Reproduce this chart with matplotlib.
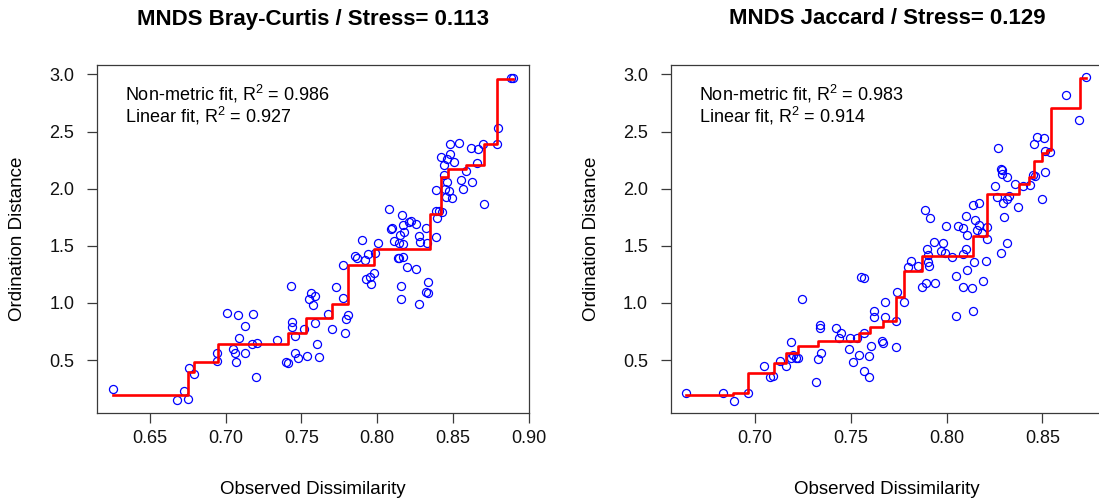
import matplotlib
matplotlib.use("Agg")
import matplotlib.pyplot as plt
import numpy as np

plt.rcParams['font.family'] = ['Liberation Sans', 'DejaVu Sans']
plt.rcParams['mathtext.fontset'] = 'custom'
plt.rcParams['mathtext.rm'] = 'Liberation Sans'
plt.rcParams['mathtext.it'] = 'Liberation Sans:italic'

# --- Bray-Curtis: observed dissimilarity vs ordination distance ---
bc_obs = [0.6257, 0.6677, 0.6753, 0.6725, 0.676, 0.679, 0.694, 0.6945, 0.707, 0.705,
          0.706, 0.709, 0.713, 0.713, 0.701, 0.708, 0.718, 0.717, 0.7206, 0.720,
          0.734, 0.741, 0.740, 0.746, 0.7474, 0.7534, 0.7618, 0.760, 0.746, 0.7437,
          0.7437, 0.7433, 0.7514, 0.7565, 0.7547, 0.7591, 0.7574, 0.7591, 0.7673, 0.7699,
          0.7785, 0.7794, 0.7807, 0.7728, 0.7774, 0.7776, 0.790, 0.7851, 0.7867, 0.7917,
          0.794, 0.7988, 0.8003, 0.7924, 0.796, 0.7955, 0.7982, 0.808, 0.8094, 0.810,
          0.8165, 0.817, 0.8153, 0.8114, 0.8147, 0.817, 0.8175, 0.8208, 0.8224, 0.8259,
          0.8277, 0.8281, 0.833, 0.8325, 0.8385, 0.8136, 0.8147, 0.817, 0.8198, 0.8253,
          0.8155, 0.816, 0.8277, 0.8325, 0.8334, 0.8334, 0.8385, 0.841, 0.8396, 0.8425,
          0.8385, 0.8444, 0.845, 0.846, 0.8472, 0.8455, 0.8495, 0.8423, 0.8462, 0.848,
          0.8444, 0.851, 0.848, 0.8539, 0.8552, 0.8566, 0.8583, 0.8623, 0.8621, 0.8665,
          0.866, 0.870, 0.8704, 0.8793, 0.8797, 0.8881, 0.8899]
bc_ord = [0.247, 0.150, 0.159, 0.232, 0.427, 0.378, 0.491, 0.559, 0.485, 0.600,
          0.559, 0.690, 0.559, 0.800, 0.908, 0.893, 0.899, 0.637, 0.646, 0.349,
          0.678, 0.471, 0.480, 0.564, 0.520, 0.532, 0.524, 0.637, 0.710, 0.791,
          0.835, 1.149, 0.768, 1.083, 1.030, 1.059, 0.980, 0.820, 0.902, 0.768,
          0.739, 0.856, 0.893, 1.141, 1.045, 1.328, 1.555, 1.409, 1.392, 1.374,
          1.427, 1.433, 1.525, 1.205, 1.164, 1.228, 1.263, 1.820, 1.651, 1.660,
          1.770, 1.680, 1.593, 1.540, 1.525, 1.520, 1.620, 1.712, 1.718, 1.695,
          1.587, 1.531, 1.525, 1.660, 1.578, 1.394, 1.397, 1.403, 1.313, 1.299,
          1.147, 1.030, 0.992, 1.097, 1.083, 1.179, 1.805, 1.805, 1.747, 1.794,
          1.986, 2.117, 2.000, 2.059, 1.980, 1.928, 1.919, 2.277, 2.257, 2.300,
          2.210, 2.230, 2.388, 2.400, 2.073, 1.995, 2.152, 2.059, 2.356, 2.350,
          2.225, 2.394, 1.864, 2.394, 2.534, 2.968, 2.971]
# monotone (non-metric) fit, as steps
bc_step_x = [0.6257, 0.675, 0.679, 0.695, 0.741, 0.7532, 0.7702, 0.7807, 0.7982,
             0.8347, 0.842, 0.8467, 0.8583, 0.8704, 0.8793, 0.8899]
bc_step_y = [0.194, 0.398, 0.485, 0.637, 0.739, 0.865, 0.993, 1.332, 1.469,
             1.776, 2.100, 2.173, 2.205, 2.391, 2.961, 2.961]

# --- Jaccard ---
ja_obs = [0.6638, 0.6833, 0.6887, 0.6963, 0.7045, 0.7077, 0.7094, 0.7129, 0.7159, 0.7186,
          0.7186, 0.7199, 0.7213, 0.7225, 0.7242, 0.732, 0.7326, 0.7343, 0.7338, 0.7338,
          0.7422, 0.7446, 0.7439, 0.7495, 0.7491, 0.7512, 0.7542, 0.753, 0.757, 0.7552,
          0.7568, 0.7568, 0.7596, 0.7594, 0.7604, 0.7618, 0.7622, 0.766, 0.7668, 0.7678,
          0.7678, 0.7733, 0.7733, 0.7739, 0.7777, 0.7814, 0.780, 0.7852, 0.7869, 0.789,
          0.7939, 0.7895, 0.7904, 0.7904, 0.7909, 0.7935, 0.7982, 0.797, 0.7991, 0.7887,
          0.7913, 0.7995, 0.8026, 0.8049, 0.8061, 0.8087, 0.8084, 0.8101, 0.8104, 0.8087,
          0.8131, 0.8049, 0.8136, 0.8144, 0.8188, 0.8205, 0.8101, 0.8108, 0.8139, 0.817,
          0.8148, 0.8169, 0.8157, 0.8183, 0.8209, 0.8212, 0.8284, 0.8313, 0.8299, 0.8261,
          0.8296, 0.8317, 0.8327, 0.8374, 0.8252, 0.827, 0.8282, 0.8287, 0.829, 0.8313,
          0.8357, 0.8397, 0.8435, 0.8452, 0.846, 0.8514, 0.8498, 0.8456, 0.847, 0.8508,
          0.8514, 0.854, 0.8623, 0.8691, 0.8726]
ja_ord = [0.208, 0.208, 0.144, 0.208, 0.450, 0.348, 0.363, 0.494, 0.447, 0.660,
          0.520, 0.544, 0.520, 0.520, 1.034, 0.310, 0.506, 0.564, 0.807, 0.778,
          0.783, 0.733, 0.690, 0.690, 0.594, 0.485, 0.544, 0.695, 0.739, 1.224,
          1.221, 0.400, 0.354, 0.538, 0.623, 0.932, 0.874, 0.670, 0.645, 1.011,
          0.879, 0.617, 0.840, 1.093, 1.010, 1.367, 1.312, 1.323, 1.137, 1.177,
          1.177, 1.470, 1.420, 1.361, 1.323, 1.536, 1.522, 1.457, 1.434, 1.813,
          1.740, 1.673, 1.400, 1.238, 1.676, 1.659, 1.426, 1.470, 1.288, 1.142,
          1.128, 0.888, 0.929, 1.355, 1.194, 1.370, 1.761, 1.595, 1.857, 1.877,
          1.726, 1.682, 1.638, 1.609, 1.667, 1.560, 1.434, 1.527, 1.750, 1.930,
          1.872, 1.907, 1.936, 1.837, 2.024, 2.354, 2.170, 2.160, 2.126, 2.100,
          2.039, 2.024, 2.032, 2.120, 2.110, 2.149, 1.907, 2.391, 2.450, 2.447,
          2.333, 2.324, 2.820, 2.600, 2.975]
ja_step_x = [0.6638, 0.6885, 0.6963, 0.7098, 0.7159, 0.7221, 0.7326, 0.7542, 0.760,
             0.7669, 0.7733, 0.7778, 0.7873, 0.8136, 0.8212, 0.8379, 0.8431, 0.8458,
             0.8499, 0.8522, 0.8543, 0.8696, 0.8726]
ja_step_y = [0.194, 0.214, 0.384, 0.471, 0.559, 0.623, 0.666, 0.734, 0.792,
             0.840, 1.055, 1.282, 1.411, 1.586, 1.951, 2.039, 2.105, 2.243,
             2.310, 2.340, 2.709, 2.972, 2.972]

panels = [
    dict(obs=bc_obs, ord=bc_ord, sx=bc_step_x, sy=bc_step_y,
         title="MNDS Bray-Curtis / Stress= 0.113", r2_nm="0.986", r2_lin="0.927",
         xticks=[0.65, 0.70, 0.75, 0.80, 0.85, 0.90], xlim=(0.6152, 0.9002),
         left=97.3),
    dict(obs=ja_obs, ord=ja_ord, sx=ja_step_x, sy=ja_step_y,
         title="MNDS Jaccard / Stress= 0.129", r2_nm="0.983", r2_lin="0.914",
         xticks=[0.70, 0.75, 0.80, 0.85], xlim=(0.656, 0.8815),
         left=671.0),
]

W, H = 1099, 503
fig = plt.figure(figsize=(W / 100, H / 100), dpi=100)
box_w, box_top, box_bot = 431.7, 65.0, 413.0
edge = '#3a3a3a'

for p in panels:
    ax = fig.add_axes([p['left'] / W, (H - box_bot) / H, box_w / W, (box_bot - box_top) / H])
    ax.plot(p['obs'], p['ord'], 'o', ms=5.8, mfc='none', mec='blue', mew=0.9, zorder=2)
    ax.step(p['sx'], p['sy'], where='post', color='red', lw=1.9, zorder=3)

    ax.set_xlim(*p['xlim'])
    ax.set_ylim(0.036, 3.083)
    ax.set_xticks(p['xticks'])
    ax.set_xticklabels([f"{t:.2f}" for t in p['xticks']])
    ax.set_yticks([0.5, 1.0, 1.5, 2.0, 2.5, 3.0])
    ax.set_yticklabels(["0.5", "1.0", "1.5", "2.0", "2.5", "3.0"])
    ax.tick_params(direction='out', length=7.5, width=0.9, color=edge,
                   labelsize=13, labelcolor='#111111')
    ax.tick_params(axis='x', pad=5)
    ax.tick_params(axis='y', pad=9)
    for s in ax.spines.values():
        s.set_color(edge)
        s.set_linewidth(0.9)

    ax.set_xlabel("Observed Dissimilarity", fontsize=13.5)
    ax.set_ylabel("Ordination Distance", fontsize=13.5)
    ax.xaxis.set_label_coords(0.5, (box_bot - 490) / (box_bot - box_top))
    ax.xaxis.label.set_va('center')
    ax.yaxis.set_label_coords((18 - 97.3) / box_w, 0.5)
    ax.yaxis.label.set_va('center')

    ax.text(0.5, (box_bot - 19) / (box_bot - box_top), p['title'], transform=ax.transAxes,
            ha='center', va='center', fontsize=16, fontweight='bold')
    ax.text(0.064, 0.917, "Non-metric fit, R$^2$ = " + p['r2_nm'], transform=ax.transAxes,
            ha='left', va='center', fontsize=13)
    ax.text(0.064, 0.853, "Linear fit, R$^2$ = " + p['r2_lin'], transform=ax.transAxes,
            ha='left', va='center', fontsize=13)

fig.savefig("out.png", dpi=100)
